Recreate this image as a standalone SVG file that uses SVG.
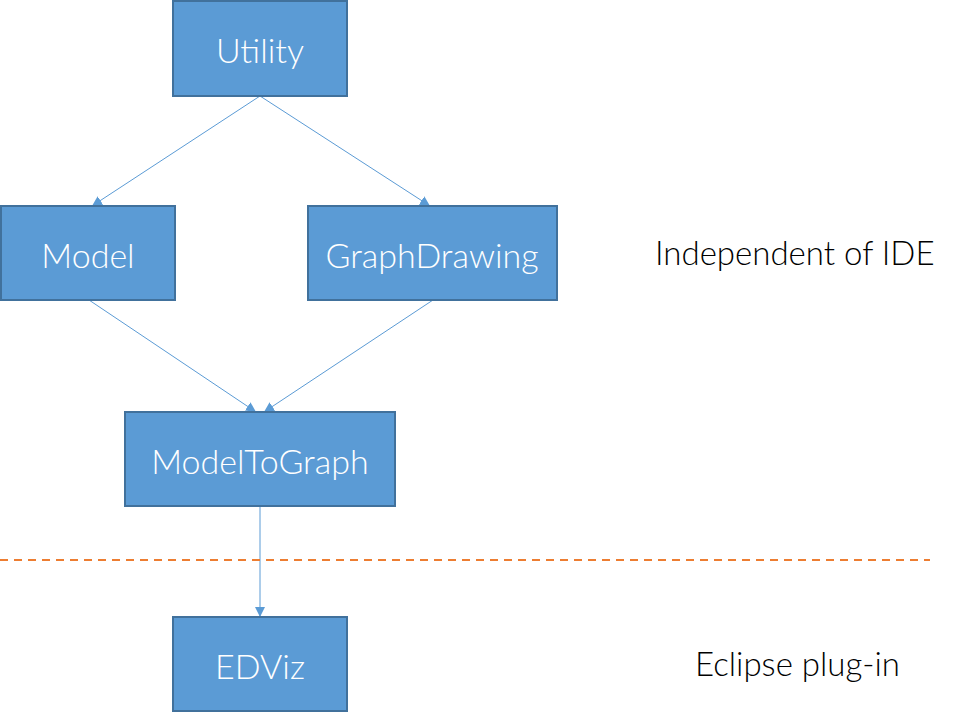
<svg xmlns="http://www.w3.org/2000/svg" width="959" height="713" viewBox="0 0 959 713">
<defs>
<marker id="ah" viewBox="0 0 10 10" refX="10" refY="5" markerWidth="10" markerHeight="10" markerUnits="userSpaceOnUse" orient="auto">
<path d="M0,0 L10,5 L0,10 z" fill="#5B9BD5"/>
</marker>
<style>
.node rect{fill:#5B9BD5;stroke:#41719C;stroke-width:2}
.node text{fill:#fff;font-family:Lato,"Liberation Sans",sans-serif;font-weight:300;font-size:34px;text-anchor:middle}
.edge{stroke:#5B9BD5;stroke-width:1;fill:none;marker-end:url(#ah)}
.lbl{fill:#000;font-family:Lato,"Liberation Sans",sans-serif;font-weight:300;font-size:33px}
</style>
</defs>
<rect width="959" height="713" fill="#fff"/>
<g id="connectors">
<line class="edge" x1="260" y1="96" x2="92" y2="206"/>
<line class="edge" x1="260" y1="96" x2="430" y2="206"/>
<line class="edge" x1="89" y1="300" x2="256" y2="412"/>
<line class="edge" x1="433" y1="300" x2="264" y2="412"/>
<line class="edge" x1="260" y1="506" x2="260" y2="617"/>
</g>
<line id="divider" x1="0" y1="560" x2="930" y2="560" stroke="#ED7D31" stroke-width="2" stroke-dasharray="8,6"/>
<g id="utility" class="node"><rect x="173" y="1" width="174" height="95"/><text x="260" y="63">Utility</text></g>
<g id="model" class="node"><rect x="1" y="206" width="174" height="94"/><text x="88" y="268">Model</text></g>
<g id="graphdrawing" class="node"><rect x="308" y="206" width="249" height="94"/><text x="432" y="268">GraphDrawing</text></g>
<g id="modeltograph" class="node"><rect x="125" y="412" width="270" height="94"/><text x="260" y="474">ModelToGraph</text></g>
<g id="edviz" class="node"><rect x="173" y="617" width="174" height="94"/><text x="260" y="679">EDViz</text></g>
<text id="label-ide" class="lbl" x="655" y="265">Independent of IDE</text>
<text id="label-eclipse" class="lbl" x="695" y="676">Eclipse plug-in</text>
</svg>
